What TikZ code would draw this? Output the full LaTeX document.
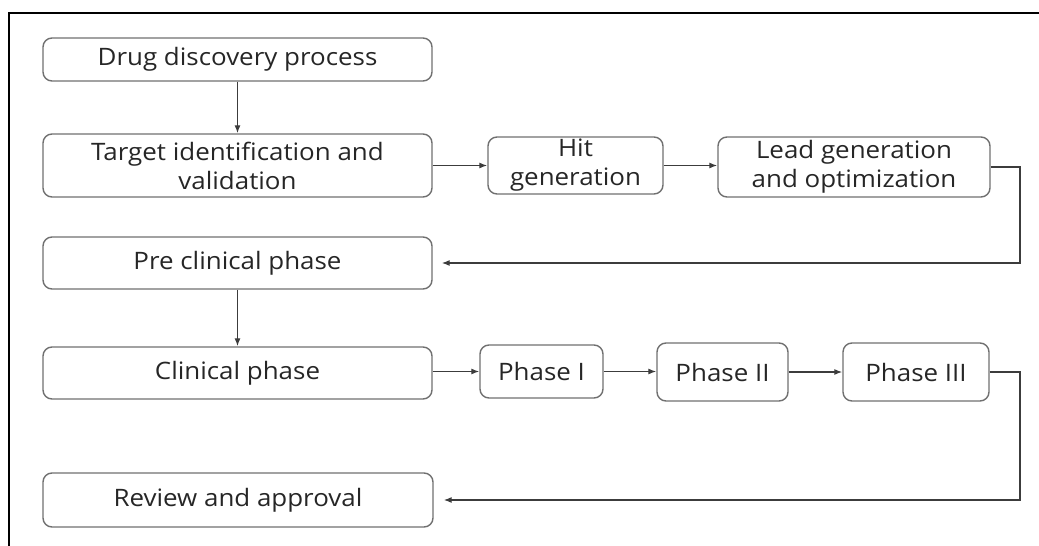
\documentclass[tikz,border=0pt]{standalone}
\usepackage{fontspec}
\setmainfont[FakeStretch=1.08]{Open Sans}
\usetikzlibrary{arrows.meta}
\definecolor{boxgray}{RGB}{112,112,112}
\definecolor{conngray}{RGB}{60,60,60}
\definecolor{textgray}{RGB}{38,38,38}
\begin{document}
\begin{tikzpicture}[x=1pt,y=-1pt,
  box/.style={draw=boxgray, line width=1.4pt, rounded corners=9pt, align=center,
    font=\fontsize{24}{29}\selectfont, text=textgray, inner sep=0pt},
  conn/.style={draw=conngray, line width=1.2pt, -{Latex[length=8pt,width=6pt]}},
  frame/.style={line width=2.5pt, draw=black}]
\useasboundingbox (0,0) rectangle (1039,546);
\draw[frame] (9,546) -- (9,13) -- (1039,13);

\node[box, minimum width=389pt, minimum height=43pt] (drug) at (237.5,59.5) {Drug discovery process};
\node[box, minimum width=389pt, minimum height=63pt] (target) at (237.5,165.5) {Target identification and\\validation};
\node[box, minimum width=175pt, minimum height=57pt] (hit) at (575.5,165.5) {Hit\\generation};
\node[box, minimum width=272pt, minimum height=60pt] (lead) at (854,167) {Lead generation\\and optimization};
\node[box, minimum width=389pt, minimum height=52pt] (pre) at (237.5,263) {Pre clinical phase};
\node[box, minimum width=389pt, minimum height=52pt] (clin) at (237.5,373) {Clinical phase};
\node[box, minimum width=123pt, minimum height=53pt] (p1) at (541.5,371.5) {Phase I};
\node[box, minimum width=131pt, minimum height=58pt] (p2) at (722.5,372) {Phase II};
\node[box, minimum width=146pt, minimum height=58pt] (p3) at (916,372) {Phase III};
\node[box, minimum width=390pt, minimum height=54pt] (rev) at (238,500) {Review and approval};

\coordinate (r1) at (1020,167);
\coordinate (r2) at (1020,372);

\draw[conn] (drug.south) -- (target.north);
\draw[conn] (target.east) -- (hit.west);
\draw[conn] (hit.east) -- (hit.east -| lead.west);
\draw[conn, shorten >=9pt] (lead.east) -- (r1) |- (pre.east);
\draw[conn] (pre.south) -- (clin.north);
\draw[conn] (clin.east |- p1.west) -- (p1.west);
\draw[conn] (p1.east) -- (p1.east -| p2.west);
\draw[conn] (p2.east) -- (p3.west);
\draw[conn, shorten >=10pt] (p3.east) -- (r2) |- (rev.east);
\end{tikzpicture}
\end{document}
